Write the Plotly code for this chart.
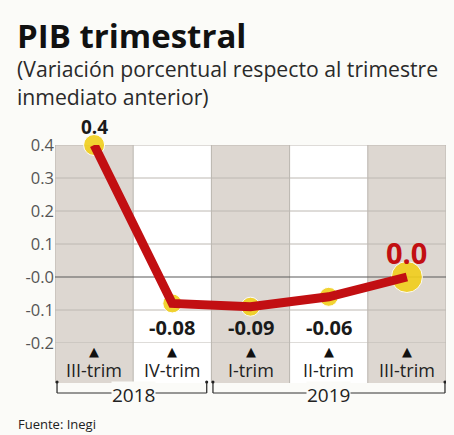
import plotly.graph_objects as go

categories = ["III-trim", "IV-trim", "I-trim", "II-trim", "III-trim"]
values = [0.4, -0.08, -0.09, -0.06, 0.0]
value_labels = ["0.4", "-0.08", "-0.09", "-0.06", "0.0"]
years = ["2018", "2019"]
year_spans = [(0, 1), (2, 4)]
ytick_vals = [0.4, 0.3, 0.2, 0.1, 0.0, -0.1, -0.2]
ytick_text = ["0.4", "0.3", "0.2", "0.1", "-0.0", "-0.1", "-0.2"]

BG = "#fbfbf8"
BAND = "#ddd7d1"
RED = "#c20f12"
YELLOW = "#f1cf1c"
FONT = "Open Sans"

PLOT_TOP, PLOT_BOT = 145, 343
H = PLOT_BOT - PLOT_TOP


def py(p):
    """pixel row -> paper y"""
    return (PLOT_BOT - p) / H


def px(p):
    return (p - 55) / 391


x = list(range(len(categories)))
fig = go.Figure()

shapes = []
band_bot = py(383)
for i in x:
    shapes.append(dict(type="rect", xref="x", yref="paper", x0=i - 0.5, x1=i + 0.5,
                       y0=band_bot, y1=1, fillcolor=BAND if i % 2 == 0 else "#ffffff",
                       line=dict(width=0), layer="below"))
for i in range(len(categories) + 1):
    shapes.append(dict(type="line", xref="x", yref="paper", x0=i - 0.5, x1=i - 0.5,
                       y0=band_bot, y1=1, line=dict(color="#b9b4ae", width=1), layer="below"))
for v in ytick_vals:
    shapes.append(dict(type="line", xref="paper", yref="y", x0=0, x1=1, y0=v, y1=v,
                       line=dict(color="#5a5a5a" if v == 0 else "#bdb8b2",
                                 width=1.2 if v == 0 else 1),
                       layer="below"))

y_top, y_bot = py(382), py(393)
bracket_ends = [(-0.474, 1.44), (1.52, 4.487)]
for (xa, xb) in bracket_ends:
    shapes.append(dict(type="line", xref="x", yref="paper", x0=xa, x1=xb, y0=y_bot, y1=y_bot,
                       line=dict(color="#333", width=1)))
    for xx in (xa, xb):
        shapes.append(dict(type="line", xref="x", yref="paper", x0=xx, x1=xx, y0=y_bot, y1=y_top,
                           line=dict(color="#333", width=1.3)))
        shapes.append(dict(type="circle", xref="x", yref="paper", x0=xx - 0.02, x1=xx + 0.02,
                           y0=y_top - 0.008, y1=y_top + 0.008, fillcolor="#222",
                           line=dict(width=0)))

fig.add_trace(go.Scatter(x=x, y=values, mode="markers",
                         marker=dict(color=YELLOW, size=[21, 19, 19, 19, 31], opacity=0.9),
                         cliponaxis=False, hoverinfo="skip"))
fig.add_trace(go.Scatter(x=x, y=values, mode="lines",
                         line=dict(color=RED, width=9), cliponaxis=False))

ann = []
for i, (v, t) in enumerate(zip(values, value_labels)):
    if i == 0:
        ann.append(dict(x=i, y=v, text=f"<b>{t}</b>", showarrow=False, yshift=18,
                        font=dict(size=19, color="#1a1a1a", family=FONT)))
    elif i == len(values) - 1:
        ann.append(dict(x=i, y=v, text=f"<b>{t}</b>", showarrow=False, yshift=25,
                        font=dict(size=29, color=RED, family=FONT)))
    else:
        ann.append(dict(x=i, y=-0.2, text=f"<b>{t}</b>", showarrow=False, yshift=16,
                        font=dict(size=20, color="#1a1a1a", family=FONT)))
for i, c in enumerate(categories):
    ann.append(dict(x=i, y=py(351), xref="x", yref="paper", yanchor="middle", text="▲",
                    showarrow=False, font=dict(size=13, color="#111", family="DejaVu Sans")))
    ann.append(dict(x=i, y=py(370), xref="x", yref="paper", yanchor="middle", text=c,
                    showarrow=False, borderpad=0, font=dict(size=18, color="#222", family=FONT)))
for (a, b), yr in zip(year_spans, years):
    xc = (a + b) / 2 if a == 0 else 3.0
    ann.append(dict(x=xc, y=py(395), xref="x", yref="paper", yanchor="middle", text=yr,
                    showarrow=False, bgcolor=BG, borderpad=0,
                    font=dict(size=19, color="#222", family=FONT)))

ann.append(dict(xref="paper", yref="paper", x=px(15), y=py(35), xanchor="left", yanchor="middle",
                text="<b>PIB trimestral</b>", showarrow=False,
                font=dict(size=33, color="#111", family=FONT)))
ann.append(dict(xref="paper", yref="paper", x=px(15), y=py(82), xanchor="left", yanchor="middle",
                text="(Variación porcentual respecto al trimestre<br>inmediato anterior)",
                align="left", showarrow=False,
                font=dict(size=21.2, color="#2a2a2a", family=FONT)))
ann.append(dict(xref="paper", yref="paper", x=px(16), y=py(424), xanchor="left", yanchor="middle",
                text="Fuente: Inegi", showarrow=False,
                font=dict(size=13, color="#222", family=FONT)))

fig.update_layout(
    annotations=ann, shapes=shapes,
    width=454, height=435, margin=dict(l=55, r=8, t=PLOT_TOP, b=435 - PLOT_BOT),
    paper_bgcolor=BG, plot_bgcolor=BG, showlegend=False,
    xaxis=dict(range=[-0.5, len(categories) - 0.5], showgrid=False, zeroline=False,
               showticklabels=False, fixedrange=True),
    yaxis=dict(range=[-0.2, 0.4], tickvals=ytick_vals, ticktext=ytick_text, showgrid=False,
               zeroline=False, tickfont=dict(size=16.5, color="#555", family=FONT),
               ticks="", ticklen=0, automargin=False, fixedrange=True),
)

fig.write_html("out.html", config={"displayModeBar": False},
               post_script="document.body.style.margin='0';document.body.style.overflow='hidden';")
